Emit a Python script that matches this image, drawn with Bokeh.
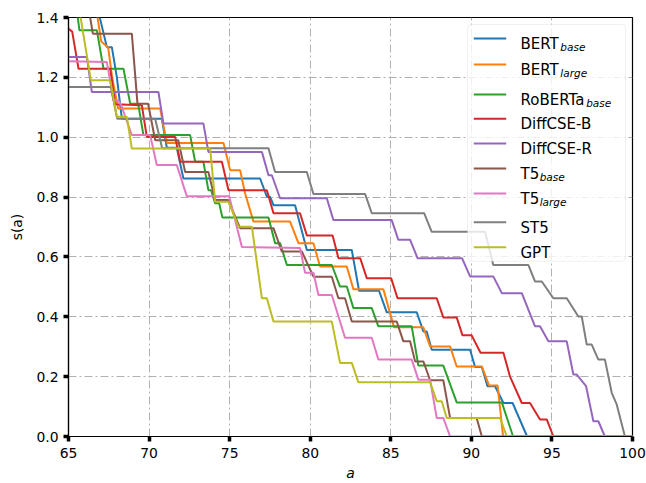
from bokeh.plotting import figure
from bokeh.models import Label, BoxAnnotation, Arrow, FixedTicker, PrintfTickFormatter, Range1d
from bokeh.embed import file_html
from bokeh.resources import INLINE

# ---------------- data ----------------
bert_base_x = [66.72, 67.38, 67.69, 68.00, 68.31, 70.79, 71.10, 71.72, 72.13, 76.89, 77.31, 77.51, 77.72, 79.06,
               79.79, 82.58, 83.03, 84.27, 84.75, 86.61, 87.02, 87.23, 87.54, 89.92, 90.23, 90.65, 91.00, 91.47,
               91.99, 92.56, 93.46, 100]
bert_base_y = [1.45, 1.301, 1.301, 1.201, 1.062, 1.062, 0.965, 0.965, 0.862, 0.862, 0.801, 0.801, 0.773, 0.773,
               0.623, 0.623, 0.487, 0.487, 0.415, 0.415, 0.351, 0.351, 0.29, 0.29, 0.232, 0.232, 0.168, 0.168,
               0.112, 0.112, 0, 0]

bert_large_x = [66.66, 67.03, 67.46, 67.71, 68.08, 70.69, 71.10, 74.62, 75.03, 75.65, 75.96, 76.48, 78.75, 79.27,
                80.20, 80.61, 82.27, 82.68, 84.54, 85.20, 87.02, 87.44, 88.68, 89.09, 90.65, 91.10, 91.63, 91.97, 100]
bert_large_y = [1.45, 1.32, 1.30, 1.2, 1.096, 1.096, 0.981, 0.981, 0.89, 0.89, 0.812, 0.718, 0.718, 0.646,
                0.646, 0.568, 0.568, 0.492, 0.492, 0.365, 0.365, 0.301, 0.301, 0.234, 0.234, 0.17, 0.17, 0, 0]

roberta_x = [65.45, 65.68, 66.76, 67.17, 68.41, 68.83, 69.32, 69.65, 72.55, 72.86, 73.37, 73.68, 73.85, 74.10,
             74.35, 74.55, 77.41, 77.82, 78.13, 78.55, 81.34, 81.85, 82.27, 82.68, 83.82, 84.23, 86.30, 86.71,
             88.26, 89.09, 91.89, 92.59, 100]
roberta_y = [1.45, 1.357, 1.357, 1.229, 1.229, 1.112, 1.112, 1.007, 1.007, 0.918, 0.918, 0.823, 0.823, 0.779,
             0.779, 0.732, 0.732, 0.646, 0.646, 0.573, 0.573, 0.501, 0.501, 0.429, 0.429, 0.368, 0.368, 0.237,
             0.237, 0.114, 0.114, 0, 0]

diffcse_b_x = [65, 65.23, 65.62, 67.59, 67.90, 69.55, 69.86, 71.62, 71.93, 74.52, 74.93, 77.31, 77.72, 79.37,
               79.79, 81.39, 81.75, 83.10, 83.51, 85.02, 85.42, 87.85, 88.26, 89.09, 89.45, 90.02, 90.57, 91.99,
               92.40, 93.13, 93.64, 94.26, 94.68, 95.09, 100]
diffcse_b_y = [1.362, 1.353, 1.229, 1.229, 1.11, 1.107, 1.001, 1.001, 0.918, 0.918, 0.823, 0.823, 0.746, 0.746,
               0.672, 0.672, 0.596, 0.596, 0.529, 0.529, 0.462, 0.462, 0.398, 0.398, 0.338, 0.338, 0.28, 0.28,
               0.2, 0.112, 0.112, 0.057, 0.057, 0, 0]

diffcse_r_x = [65, 66.14, 66.45, 70.58, 70.89, 73.37, 73.68, 77.00, 77.41, 77.62, 78.13, 81.03, 81.44, 85.06,
               85.47, 86.20, 86.66, 89.42, 89.92, 91.36, 91.89, 93.13, 93.95, 94.26, 94.78, 95.92, 96.33, 96.54,
               97.12, 97.57, 97.88, 98.29, 100]
diffcse_r_y = [1.268, 1.268, 1.151, 1.151, 1.046, 1.046, 0.951, 0.951, 0.873, 0.873, 0.796, 0.796, 0.723, 0.723,
               0.657, 0.657, 0.596, 0.596, 0.535, 0.535, 0.479, 0.479, 0.368, 0.368, 0.318, 0.318, 0.207, 0.207,
               0.168, 0.051, 0.051, 0, 0]

t5_base_x = [66.19, 66.51, 68.93, 69.28, 69.94, 70.38, 71.81, 72.24, 73.68, 74.10, 74.91, 75.65, 77.72, 78.24,
             79.48, 80.20, 81.34, 81.75, 82.16, 82.58, 85.37, 85.78, 86.20, 86.51, 87.02, 87.44, 88.26, 88.68,
             90.33, 90.65, 100]
t5_base_y = [1.45, 1.346, 1.346, 1.112, 1.112, 0.99, 0.99, 0.884, 0.884, 0.79, 0.79, 0.696, 0.696, 0.618,
             0.618, 0.534, 0.534, 0.462, 0.462, 0.384, 0.384, 0.318, 0.318, 0.251, 0.251, 0.188, 0.188, 0.062,
             0.062, 0, 0]

t5_large_x = [65, 67.38, 67.79, 68.10, 68.31, 68.93, 70.07, 70.48, 71.72, 72.34, 74.97, 75.76, 79.37, 79.68,
              80.20, 80.51, 81.34, 82.16, 83.82, 84.23, 86.30, 86.71, 87.44, 87.85, 88.26, 88.68, 100]
t5_large_y = [1.254, 1.251, 1.123, 1.123, 1.101, 1.007, 1.007, 0.907, 0.907, 0.803, 0.803, 0.633, 0.63, 0.547,
              0.547, 0.473, 0.473, 0.33, 0.33, 0.257, 0.257, 0.19, 0.19, 0.062, 0.062, 0, 0]

st5_x = [65, 67.63, 68.02, 70.38, 70.81, 77.41, 77.82, 79.79, 80.20, 83.41, 83.82, 87.07, 87.54, 90.85, 91.36,
         93.54, 93.95, 94.37, 95.09, 95.92, 96.64, 96.85, 97.16, 97.47, 97.88, 98.29, 98.71, 99.02, 99.53, 100]
st5_y = [1.168, 1.168, 1.062, 1.062, 0.963, 0.963, 0.884, 0.884, 0.81, 0.81, 0.746, 0.746, 0.684, 0.684, 0.573,
         0.573, 0.518, 0.518, 0.462, 0.462, 0.401, 0.401, 0.307, 0.307, 0.257, 0.257, 0.146, 0.107, 0, 0]

gpt_x = [65.0, 65.60, 66.39, 67.59, 68.00, 68.62, 68.93, 73.79, 74.10, 74.93, 75.55, 76.38, 76.58, 77.00, 77.31,
         77.72, 81.34, 81.85, 82.58, 82.99, 87.44, 87.85, 88.16, 88.47, 91.78, 92.20, 100]
gpt_y = [1.6, 1.45, 1.19, 1.19, 1.068, 1.068, 0.962, 0.962, 0.784, 0.784, 0.701, 0.701, 0.623, 0.462, 0.462,
         0.384, 0.384, 0.246, 0.246, 0.181, 0.181, 0.118, 0.118, 0.062, 0.062, 0, 0]

series_main = ["BERT", "BERT", "RoBERTa", "DiffCSE-B", "DiffCSE-R", "T5", "T5", "ST5", "GPT"]
series_sub = ["base", "large", "base", "", "", "base", "large", "", ""]
series_x = [bert_base_x, bert_large_x, roberta_x, diffcse_b_x, diffcse_r_x, t5_base_x, t5_large_x, st5_x, gpt_x]
series_y = [bert_base_y, bert_large_y, roberta_y, diffcse_b_y, diffcse_r_y, t5_base_y, t5_large_y, st5_y, gpt_y]
colors = ["#1f77b4", "#ff7f0e", "#2ca02c", "#d62728", "#9467bd", "#8c564b", "#e377c2", "#7f7f7f", "#bcbd22"]

x_ticks = [65, 70, 75, 80, 85, 90, 95, 100]
y_ticks = [0.0, 0.2, 0.4, 0.6, 0.8, 1.0, 1.2, 1.4]
x_label = "a"
y_label = "s(a)"

# ---------------- figure ----------------
FONT = "DejaVu Sans"
p = figure(width=646, height=483, output_backend="svg", toolbar_location=None,
           x_range=Range1d(65, 100), y_range=Range1d(0, 1.4),
           min_border_left=68, min_border_right=14, min_border_top=17, min_border_bottom=46)
p.background_fill_color = "white"
p.border_fill_color = "white"
p.outline_line_color = "black"
p.outline_line_width = 1.2

for ax in (p.xaxis[0], p.yaxis[0]):
    ax.axis_line_color = "black"
    ax.axis_line_width = 1.2
    ax.major_tick_line_color = "black"
    ax.major_tick_line_width = 3.5
    ax.major_tick_out = 5
    ax.major_tick_in = 0
    ax.minor_tick_line_color = None
    ax.major_label_text_font = FONT
    ax.major_label_text_font_size = "13.9px"
    ax.major_label_text_color = "black"
    ax.axis_label_text_font = FONT
    ax.axis_label_text_font_size = "13.9px"
    ax.axis_label_text_color = "black"

p.xaxis.ticker = FixedTicker(ticks=x_ticks)
p.yaxis.ticker = FixedTicker(ticks=y_ticks)
p.yaxis.formatter = PrintfTickFormatter(format="%.1f")
p.xaxis.major_label_standoff = 6
p.yaxis.major_label_standoff = 5
p.xaxis.axis_label = x_label
p.xaxis.axis_label_text_font_style = "italic"
p.xaxis.axis_label_standoff = 4
p.yaxis.axis_label = y_label
p.yaxis.axis_label_text_font_style = "normal"
p.yaxis.axis_label_standoff = 8

for g in (p.xgrid[0], p.ygrid[0]):
    g.grid_line_color = "#b0b0b0"
    g.grid_line_width = 1
    g.grid_line_dash = "8 3 2 3"

for xs, ys, c in zip(series_x, series_y, colors):
    p.line(xs, ys, line_color=c, line_width=2)

# ---------------- legend (drawn by hand, screen units from frame bottom-left) ----------------
box = BoxAnnotation(left=399, right=557, bottom=175.3, top=412,
                    left_units="screen", right_units="screen", top_units="screen", bottom_units="screen",
                    fill_color="white", fill_alpha=0.8, line_color="#cccccc", line_width=1, border_radius=4)
p.add_layout(box)

row_y = [398, 372, 342, 317.7, 293, 268, 243, 214.3, 189.3]
adv = {"B": 0.686, "E": 0.632, "R": 0.695, "T": 0.611, "o": 0.612, "a": 0.613, "D": 0.770, "i": 0.278,
       "f": 0.352, "C": 0.698, "S": 0.635, "-": 0.361, "5": 0.636, "G": 0.775, "P": 0.603}
kern = {"RoBERTa": -0.2}
LFS = 15.0
for main, sub, c, yy in zip(series_main, series_sub, colors, row_y):
    p.add_layout(Arrow(end=None, x_start=405.3, y_start=yy, x_end=437.7, y_end=yy,
                       start_units="screen", end_units="screen", line_color=c, line_width=2))
    p.add_layout(Label(x=452, y=yy - 5.5, x_units="screen", y_units="screen", text=main,
                       text_font=FONT, text_font_size=f"{LFS}px", text_color="black",
                       text_baseline="alphabetic", text_align="left"))
    if sub:
        w = (sum(adv[ch] for ch in main) + kern.get(main, 0)) * LFS
        p.add_layout(Label(x=452 + w + 0.5, y=yy - 8, x_units="screen", y_units="screen", text=sub,
                           text_font=FONT, text_font_size=f"{LFS * 0.7:.2f}px", text_font_style="italic",
                           text_color="black", text_baseline="alphabetic", text_align="left"))

open("out.html", "w").write(file_html(p, INLINE))
